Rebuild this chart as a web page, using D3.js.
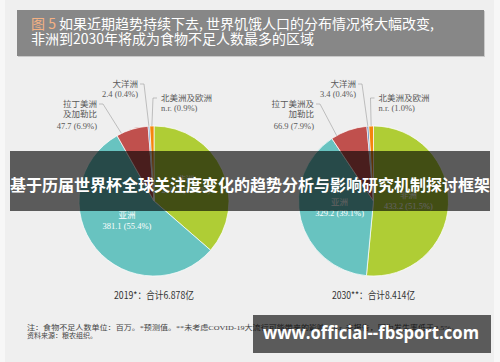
<!DOCTYPE html>
<html><head><meta charset="utf-8">
<script src="https://cdn.jsdelivr.net/npm/d3@7"></script>
<style>html,body{margin:0;padding:0;background:#f7f7f7;}svg{display:block;}</style>
</head><body>
<svg id="chart" width="500" height="362"></svg>
<script>
// ---- data ----
const categories = ["非洲", "亚洲", "拉丁美洲及加勒比", "大洋洲", "北美洲及欧洲"];
const values2019 = [250.3, 381.1, 47.7, 2.4, 6.2];
const values2030 = [433.2, 329.2, 66.9, 3.4, 8.4];
const valueText2019 = ["250.3", "381.1", "47.7", "2.4", "n.r."];
const valueText2030 = ["433.2", "329.2", "66.9", "3.4", "n.r."];
const pct2019 = ["36.4%", "55.4%", "6.9%", "0.4%", "0.9%"];
const pct2030 = ["51.5%", "39.1%", "7.9%", "0.4%", "1.0%"];
const latamLines2019 = ["拉丁美洲", "及加勒比"];
const latamLines2030 = ["拉丁美洲及", "加勒比"];
const captions = ["2019*：合计6.878亿", "2030**：合计8.414亿"];
const titleLines = ["如果近期趋势持续下去, 世界饥饿人口的分布情况将大幅改变,", "非洲到2030年将成为食物不足人数最多的区域"];
const figLabel = "图 5";
const noteLines = ["注：食物不足人数单位：百万。*预测值。**未考虑COVID-19大流行可能带来的影响。n.r. 未报告，因为发生率低于2.5%。", "资料来源：粮农组织。"];
const bannerText = "基于历届世界杯全球关注度变化的趋势分析与影响研究机制探讨框架";
const watermark = "www.official--fbsport.com";

const colors = ["#afcd35", "#68c3c0", "#c0504d", "#4f81bd", "#f4850c"];

const svg = d3.select("#chart");
const serif = "'Liberation Serif','Noto Sans CJK SC',serif";
const sans = "'Noto Sans CJK SC','Noto Sans',sans-serif";

// panel
svg.append("rect").attr("x", 5).attr("y", 0).attr("width", 489).attr("height", 362).attr("fill", "#efefef");

// header
svg.append("rect").attr("x", 18).attr("y", 11).attr("width", 467).attr("height", 46).attr("fill", "#c9c9c9");
svg.append("rect").attr("x", 17).attr("y", 10).attr("width", 467).attr("height", 46).attr("fill", "#878787");
const t1 = svg.append("text").attr("x", 31).attr("y", 23).attr("dominant-baseline", "central")
  .attr("font-family", sans).attr("font-size", 14).attr("fill", "#fff");
t1.append("tspan").attr("fill", "#f4b183").text(figLabel + " ");
t1.append("tspan").text(titleLines[0]);
svg.append("text").attr("x", 31).attr("y", 38).attr("dominant-baseline", "central")
  .attr("font-family", sans).attr("font-size", 14).attr("fill", "#fff").text(titleLines[1]);

const color = d3.scaleOrdinal().domain(categories).range(colors);
const R = 75;
const pie = d3.pie().sort(null).value(d => d.v);
const arc = d3.arc().innerRadius(0).outerRadius(R);
const labelArc = d3.arc().innerRadius(0).outerRadius(70);

function pointAt(a, r) { return [r * Math.sin(a), -r * Math.cos(a)]; }

function drawPie(cx, cy, values, valueText, pct, latamLines, caption, cfg) {
  const data = categories.map((c, i) => ({ c, v: values[i], t: valueText[i], p: pct[i] }));
  const arcs = pie(data);
  const g = svg.append("g").attr("transform", `translate(${cx},${cy})`);
  g.selectAll("path").data(arcs).join("path")
    .attr("d", arc).attr("fill", d => color(d.data.c))
    .attr("stroke", "#fff").attr("stroke-width", 0.7);

  // inner labels (Africa, Asia)
  arcs.slice(0, 2).forEach(d => {
    const [x, y] = labelArc.centroid(d);
    const t = g.append("text").attr("text-anchor", "middle").attr("font-family", serif)
      .attr("font-size", 8.5).attr("fill", "#fff");
    t.append("tspan").attr("x", x).attr("y", y - 5).text(d.data.c);
    t.append("tspan").attr("x", x).attr("y", y + 6).text(`${d.data.t} (${d.data.p})`);
  });

  const lab = (x, y, anchor, lines) => {
    const t = g.append("text").attr("text-anchor", anchor).attr("font-family", serif)
      .attr("font-size", 8.5).attr("fill", "#595959").attr("dominant-baseline", "central");
    lines.forEach((l, i) => t.append("tspan").attr("x", x).attr("y", y + cfg.dy[i]).text(l));
  };
  const line = pts => g.append("path").attr("d", d3.line()(pts)).attr("fill", "none")
    .attr("stroke", "#9a9a9a").attr("stroke-width", 0.6);

  // Latin America
  const la = arcs[2];
  lab(cfg.latX, cfg.latY, "end", [...latamLines, `${la.data.t} (${la.data.p})`]);
  line([[cfg.latX + 2, cfg.latY], [cfg.latX + 6, cfg.latY],
        pointAt(la.startAngle + 0.15 * (la.endAngle - la.startAngle), R)]);
  // Oceania
  const oc = arcs[3];
  lab(cfg.ocX, cfg.ocY, "end", [oc.data.c, `${oc.data.t} (${oc.data.p})`]);
  line([[cfg.ocX + 2, cfg.ocY], [cfg.ocX + 6, cfg.ocY], pointAt((oc.startAngle + oc.endAngle) / 2, R)]);
  // North America & Europe
  const na = arcs[4];
  lab(cfg.naX, cfg.naY, "start", [na.data.c, `${na.data.t} (${na.data.p})`]);
  line([[cfg.naX - 4, cfg.naY], [cfg.naX - 8, cfg.naY], pointAt((na.startAngle + na.endAngle) / 2, R)]);

  svg.append("text").attr("x", cx).attr("y", cy + 93).attr("text-anchor", "middle")
    .attr("dominant-baseline", "central").attr("font-family", sans).attr("font-size", 10)
    .attr("fill", "#333").attr("textLength", cfg.capW).attr("lengthAdjust", "spacingAndGlyphs")
    .text(caption);
}

drawPie(154, 201, values2019, valueText2019, pct2019, latamLines2019, captions[0],
  { latX: -57, latY: -97, ocX: -16, ocY: -117, naX: 7, naY: -103, dy: [0, 10, 22], capW: 80 });
drawPie(373.5, 201, values2030, valueText2030, pct2030, latamLines2030, captions[1],
  { latX: -59.5, latY: -97, ocX: -17.5, ocY: -117, naX: 5, naY: -103, dy: [0, 10, 22], capW: 83 });

// footnote
svg.append("text").attr("x", 27).attr("y", 328).attr("dominant-baseline", "central")
  .attr("font-family", serif).attr("font-size", 7).attr("fill", "#444")
  .attr("textLength", 432).attr("lengthAdjust", "spacingAndGlyphs").text(noteLines[0]);
svg.append("text").attr("x", 27).attr("y", 335.5).attr("dominant-baseline", "central")
  .attr("font-family", serif).attr("font-size", 7).attr("fill", "#444").text(noteLines[1]);

// overlay banner
svg.append("rect").attr("x", 10).attr("y", 151).attr("width", 480).attr("height", 60)
  .attr("fill", "rgba(0,0,0,0.62)");
svg.append("text").attr("x", 250).attr("y", 183.5).attr("text-anchor", "middle")
  .attr("dominant-baseline", "central").attr("font-family", sans).attr("font-weight", "bold")
  .attr("font-size", 16).attr("fill", "#fff").text(bannerText);

// watermark
svg.append("rect").attr("x", 253).attr("y", 315).attr("width", 238).attr("height", 38)
  .attr("fill", "rgba(0,0,0,0.62)");
svg.append("text").attr("x", 263).attr("y", 332).attr("dominant-baseline", "central")
  .attr("font-family", "'Open Sans','Liberation Sans',sans-serif").attr("font-weight", "bold")
  .attr("font-size", 17.5).attr("fill", "#fff")
  .attr("textLength", 216).attr("lengthAdjust", "spacingAndGlyphs").text(watermark);
</script>
</body></html>
